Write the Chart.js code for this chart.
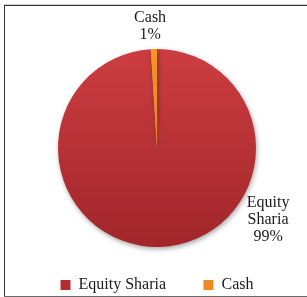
<!DOCTYPE html>
<html><head><meta charset="utf-8">
<script src="https://cdn.jsdelivr.net/npm/chart.js@4/dist/chart.umd.min.js"></script>
<style>html,body{margin:0;padding:0;background:#fff;}canvas{display:block;}</style>
</head><body>
<canvas id="c" width="307" height="297"></canvas>
<script>
// ---- data ----
const categories = ['Equity Sharia', 'Cash'];
const values = [99, 1];

// ---- styles ----
const topColors = ['#CC3D40', '#F7961F'];
const bottomColors = ['#A1262A', '#DA721C'];
const legendColors = ['#B42E30', '#F08A22'];
const FONT = '"Liberation Serif", "DejaVu Serif", serif';
const PIE_R = 99;
// label anchor (angle in degrees, distance in radii) relative to pie centre
const labelPlacement = [{ang: 32.5, dist: 1.33}, {ang: -93.2, dist: 1.247}];

const total = values.reduce((a, b) => a + b, 0);

const framePlugin = {
  id: 'frame',
  beforeDraw(chart) {
    const c = chart.ctx;
    c.save();
    c.fillStyle = '#fff';
    c.fillRect(0, 0, chart.width, chart.height);
    c.fillStyle = '#cfcfcf'; c.fillRect(4, 4, chart.width - 4, 1);
    c.fillStyle = '#333';    c.fillRect(4, 5, chart.width - 4, 1);
    c.fillStyle = '#333';    c.fillRect(4, 5, 1, chart.height - 5);
    c.fillStyle = '#6a6a6a'; c.fillRect(4, 296, chart.width - 4, 1);
    c.restore();
  }
};

const shadowPlugin = {
  id: 'pieShadow',
  beforeDatasetDraw(chart) {
    const c = chart.ctx;
    c.save();
    c.shadowColor = 'rgba(0,0,0,0.35)';
    c.shadowBlur = 5;
    c.shadowOffsetX = 1;
    c.shadowOffsetY = 2;
  },
  afterDatasetDraw(chart) { chart.ctx.restore(); }
};

const labelPlugin = {
  id: 'sliceLabels',
  afterDatasetsDraw(chart) {
    const c = chart.ctx;
    const meta = chart.getDatasetMeta(0);
    c.save();
    c.font = '16px ' + FONT;
    c.fillStyle = '#1a1a1a';
    c.textAlign = 'center';
    c.textBaseline = 'alphabetic';
    meta.data.forEach((arc, i) => {
      const p = labelPlacement[i];
      const a = p.ang * Math.PI / 180;
      const cx = arc.x + Math.cos(a) * arc.outerRadius * p.dist;
      const cy = arc.y + Math.sin(a) * arc.outerRadius * p.dist;
      const pct = Math.round(values[i] / total * 100) + '%';
      const lines = categories[i].split(' ').concat([pct]);
      const lh = 17;
      lines.forEach((t, k) => {
        const y = cy + (k - (lines.length - 1) / 2) * lh + 5.3;
        c.fillText(t, cx, y);
      });
    });
    c.restore();
  }
};

function grad(ctx) {
  const chart = ctx.chart;
  const a = chart.chartArea;
  if (!a) return topColors[ctx.dataIndex];
  const cy = (a.top + a.bottom) / 2;
  const g = chart.ctx.createLinearGradient(0, cy - PIE_R, 0, cy + PIE_R);
  g.addColorStop(0, topColors[ctx.dataIndex]);
  g.addColorStop(1, bottomColors[ctx.dataIndex]);
  return g;
}

new Chart(document.getElementById('c'), {
  type: 'pie',
  data: {
    labels: categories,
    datasets: [{
      data: values,
      backgroundColor: grad,
      borderWidth: 0,
      radius: PIE_R,
      clip: false
    }]
  },
  options: {
    responsive: false,
    animation: false,
    layout: {padding: {left: 14, right: 7, top: 58.4, bottom: 0}},
    plugins: {
      tooltip: {enabled: false},
      legend: {
        position: 'bottom',
        maxHeight: 59.4,
        title: {display: true, text: '', padding: 0, font: {size: 2, lineHeight: 1}},
        labels: {
          font: {family: FONT, size: 16},
          color: '#1a1a1a',
          boxWidth: 10,
          boxHeight: 10,
          padding: 37.4,
          generateLabels(chart) {
            return categories.map((name, i) => ({
              text: name,
              fillStyle: legendColors[i],
              strokeStyle: legendColors[i],
              lineWidth: 0,
              hidden: false,
              index: i,
              fontColor: '#1a1a1a'
            }));
          }
        }
      }
    }
  },
  plugins: [framePlugin, shadowPlugin, labelPlugin]
});
</script>
</body></html>
